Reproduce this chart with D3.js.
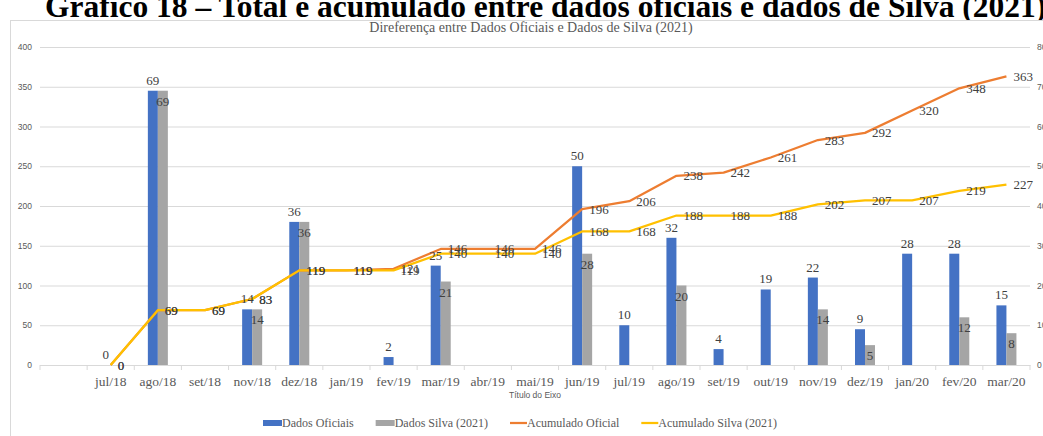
<!DOCTYPE html>
<html>
<head>
<meta charset="utf-8">
<script src="https://cdn.jsdelivr.net/npm/d3@7"></script>
<style>
  html, body { margin: 0; padding: 0; background: #fff; }
  svg { display: block; }
</style>
</head>
<body>
<svg id="chart" width="1043" height="436"></svg>
<script>
// Months on the category axis (the first band is left empty)
const months = ["jul/18","ago/18","set/18","nov/18","dez/18","jan/19","fev/19","mar/19","abr/19","mai/19",
                "jun/19","jul/19","ago/19","set/19","out/19","nov/19","dez/19","jan/20","fev/20","mar/20"];

// Monthly totals (right axis); null = no bar
const dadosOficiais = [0, 69, null, 14, 36, null, 2, 25, null, null, 50, 10, 32, 4, 19, 22, 9, 28, 28, 15];
const dadosSilva    = [null, 69, null, 14, 36, null, null, 21, null, null, 28, null, 20, null, null, 14, 5, null, 12, 8];

// Running totals (left axis)
const acumuladoOficial = [0, 69, 69, 83, 119, 119, 121, 146, 146, 146, 196, 206, 238, 242, 261, 283, 292, 320, 348, 363];
const acumuladoSilva   = [0, 69, 69, 83, 119, 119, 119, 140, 140, 140, 168, 168, 188, 188, 188, 202, 207, 207, 219, 227];

// Axis ticks
const leftTicks  = [0, 50, 100, 150, 200, 250, 300, 350, 400];
const rightTicks = [0, 10, 20, 30, 40, 50, 60, 70, 80];

const colors = { oficial: "#4472C4", silva: "#A5A5A5", acOficial: "#ED7D31", acSilva: "#FFC000" };
const serif = "'Liberation Serif', 'Times New Roman', serif";
const sans = "'Liberation Sans', Arial, sans-serif";

const svg = d3.select("#chart");
svg.append("rect").attr("width", 1043).attr("height", 436).attr("fill", "#fff");

// Document heading above the chart box
svg.append("text")
  .attr("x", 45).attr("y", 17)
  .attr("font-family", serif).attr("font-weight", "bold").attr("font-size", 31.5)
  .attr("fill", "#000")
  .text("Gráfico 18 – Total e acumulado entre dados oficiais e dados de Silva (2021)");

// Chart area frame
svg.append("rect")
  .attr("x", 10.5).attr("y", 20.5).attr("width", 1060).attr("height", 440)
  .attr("fill", "#fff").attr("stroke", "#d9d9d9");

svg.append("text")
  .attr("x", 531).attr("y", 32).attr("text-anchor", "middle")
  .attr("font-family", serif).attr("font-size", 14).attr("fill", "#595959")
  .text("Direferença entre Dados Oficiais e Dados de Silva (2021)");

const plot = { left: 40, right: 1030, top: 47, bottom: 365 };

const x = d3.scaleBand().domain([""].concat(months)).range([plot.left, plot.right]).padding(0);
const yL = d3.scaleLinear().domain([0, 400]).range([plot.bottom, plot.top]);
const yR = d3.scaleLinear().domain([0, 80]).range([plot.bottom, plot.top]);
const cx = m => x(m) + x.bandwidth() / 2;

// Gridlines + left axis labels
const leftAxis = d3.axisLeft(yL).tickValues(leftTicks).tickSize(-(plot.right - plot.left)).tickPadding(8);
const gL = svg.append("g").attr("transform", `translate(${plot.left},0)`).call(leftAxis);
gL.select(".domain").remove();
gL.selectAll(".tick line").attr("stroke", "#d9d9d9");
gL.selectAll(".tick text").attr("font-family", sans).attr("font-size", 8.5).attr("fill", "#595959");

// Right axis labels (bar scale)
const rightAxis = d3.axisRight(yR).tickValues(rightTicks).tickSize(0).tickPadding(7);
const gR = svg.append("g").attr("transform", `translate(${plot.right},0)`).call(rightAxis);
gR.select(".domain").remove();
gR.selectAll(".tick text").attr("font-family", sans).attr("font-size", 8.5).attr("fill", "#595959");

// Category axis
const bottomAxis = d3.axisBottom(x).tickSize(0).tickPadding(11);
const gB = svg.append("g").attr("transform", `translate(0,${plot.bottom})`).call(bottomAxis);
gB.select(".domain").attr("stroke", "#d9d9d9");
gB.selectAll(".tick text").attr("font-family", serif).attr("font-size", 13.5).attr("fill", "#595959");
// tick marks on band boundaries
const bounds = x.domain().map(d => x(d)).concat([plot.right]);
gB.selectAll("line.bound").data(bounds).join("line").attr("class", "bound")
  .attr("x1", d => d).attr("x2", d => d).attr("y1", 0).attr("y2", 5)
  .attr("stroke", "#d9d9d9");

svg.append("text")
  .attr("x", 535).attr("y", 398).attr("text-anchor", "middle")
  .attr("font-family", sans).attr("font-size", 8.5).attr("fill", "#595959")
  .text("Título do Eixo");

// Bars
const barW = 10;
const oficialData = months.map((m, i) => ({ m, v: dadosOficiais[i] })).filter(d => d.v !== null);
const silvaData = months.map((m, i) => ({ m, v: dadosSilva[i] })).filter(d => d.v !== null);

svg.append("g").selectAll("rect").data(oficialData).join("rect")
  .attr("x", d => cx(d.m) - barW).attr("width", barW)
  .attr("y", d => yR(d.v)).attr("height", d => yR(0) - yR(d.v))
  .attr("fill", colors.oficial);
svg.append("g").selectAll("rect").data(silvaData).join("rect")
  .attr("x", d => cx(d.m)).attr("width", barW)
  .attr("y", d => yR(d.v)).attr("height", d => yR(0) - yR(d.v))
  .attr("fill", colors.silva);

// Lines
const line = d3.line().x(d => cx(d.m)).y(d => yL(d.v));
const acOf = months.map((m, i) => ({ m, v: acumuladoOficial[i] }));
const acSi = months.map((m, i) => ({ m, v: acumuladoSilva[i] }));
svg.append("path").datum(acOf).attr("d", line).attr("fill", "none")
  .attr("stroke", colors.acOficial).attr("stroke-width", 2.25).attr("stroke-linejoin", "round");
svg.append("path").datum(acSi).attr("d", line).attr("fill", "none")
  .attr("stroke", colors.acSilva).attr("stroke-width", 2.25).attr("stroke-linejoin", "round");

// Data labels
const labelStyle = sel => sel.attr("font-family", serif).attr("font-size", 13).attr("fill", "#404040");

svg.append("g").selectAll("text").data(oficialData).join("text")
  .attr("x", d => cx(d.m) - barW / 2).attr("y", d => yR(d.v) - 6)
  .attr("text-anchor", "middle").call(labelStyle).text(d => d.v);

svg.append("g").selectAll("text").data(silvaData).join("text")
  .attr("x", d => cx(d.m) + barW / 2).attr("y", d => yR(d.v) + 15)
  .attr("text-anchor", "middle").call(labelStyle).text(d => d.v);

svg.append("g").selectAll("text").data(acOf).join("text")
  .attr("x", d => cx(d.m) + 7).attr("y", d => yL(d.v)).attr("dy", "0.35em")
  .call(labelStyle).text(d => d.v);

svg.append("g").selectAll("text").data(acSi).join("text")
  .attr("x", d => cx(d.m) + 7).attr("y", d => yL(d.v)).attr("dy", "0.35em")
  .call(labelStyle).text(d => d.v);

// Legend
const legendItems = [
  { name: "Dados Oficiais", color: colors.oficial, type: "rect" },
  { name: "Dados Silva (2021)", color: colors.silva, type: "rect" },
  { name: "Acumulado Oficial", color: colors.acOficial, type: "line" },
  { name: "Acumulado Silva (2021)", color: colors.acSilva, type: "line" }
];
const legend = svg.append("g").attr("transform", "translate(263,423)");
let lx = 0;
legendItems.forEach(item => {
  const g = legend.append("g").attr("transform", `translate(${lx},0)`);
  if (item.type === "rect") {
    g.append("rect").attr("x", 0).attr("y", -3).attr("width", 19).attr("height", 6).attr("fill", item.color);
  } else {
    g.append("line").attr("x1", 0).attr("x2", 17).attr("y1", 0).attr("y2", 0)
      .attr("stroke", item.color).attr("stroke-width", 2.25);
  }
  const t = g.append("text").attr("x", item.type === "rect" ? 19 : 17).attr("y", 0).attr("dy", "0.35em")
    .attr("font-family", serif).attr("font-size", 12).attr("fill", "#595959").text(item.name);
  lx += (item.type === "rect" ? 19 : 17) + t.node().getComputedTextLength() + 22;
});
</script>
</body>
</html>
